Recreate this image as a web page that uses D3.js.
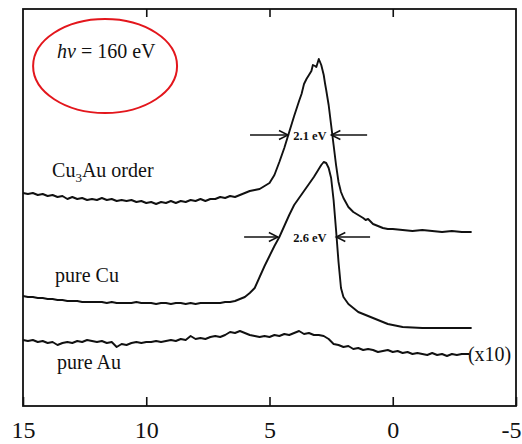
<!DOCTYPE html>
<html>
<head>
<meta charset="utf-8">
<script src="https://cdn.jsdelivr.net/npm/d3@7"></script>
<style>
  html, body { margin: 0; padding: 0; background: #fff; }
  svg { display: block; }
</style>
</head>
<body>
<svg id="chart" width="522" height="444"></svg>
<script>
// Binding energy axis (eV), drawn reversed
const xTicks = [15, 10, 5, 0, -5];
const topTicks = [10, 5, 0];

// Photoemission spectra: [binding energy (eV), intensity (arb. units)]
const cu3auOrder = [
  [15.0,213],[14.8,212],[14.6,213],[14.4,211],[14.2,212],[14.0,210],[13.8,211],[13.6,209],
  [13.4,210],[13.2,207],[13.0,209],[12.8,207],[12.6,208],[12.4,206],[12.2,207],[12.0,206],
  [11.8,208],[11.6,206],[11.4,207],[11.2,205],[11.0,206],[10.8,205],[10.6,206],[10.4,204],
  [10.2,205],[10.0,203],[9.8,204],[9.6,202],[9.4,204],[9.2,203],[9.0,205],[8.8,203],
  [8.6,205],[8.4,204],[8.2,206],[8.0,205],[7.8,207],[7.6,205],[7.4,207],[7.2,207],
  [7.0,209],[6.8,208],[6.6,210],[6.4,209],[6.2,211],[6.0,213],[5.8,215],[5.6,216],
  [5.4,217],[5.2,220],[5.0,223],[4.8,231],[4.6,244],[4.4,258],[4.2,274],[4.0,290],
  [3.8,305],[3.7,312],[3.6,322],[3.5,327],[3.4,331],[3.3,335],[3.24,341],[3.15,340],
  [3.1,339],[3.0,347],[2.9,341],[2.8,331],[2.75,323],[2.7,316],[2.6,301],[2.5,281],
  [2.4,261],[2.3,241],[2.2,224],[2.1,214],[2.0,208],[1.8,199],[1.6,194],[1.4,191],
  [1.2,188],[1.1,186],[1.0,187],[0.8,182],[0.6,180],[0.4,178],[0.2,177],[0.0,177],
  [-0.4,176],[-0.8,175],[-1.2,176],[-1.6,175],[-2.0,174],[-2.4,175],[-2.8,174],[-3.2,174]
];

const pureCu = [
  [15.0,110],[14.8,109],[14.6,109],[14.4,108],[14.2,108],[14.0,107],[13.8,107],[13.6,106],
  [13.4,106],[13.2,105],[13.0,105],[12.8,105],[12.6,104],[12.4,104],[12.2,104],[12.0,104],
  [11.8,104],[11.6,103],[11.4,104],[11.2,103],[11.0,103],[10.8,103],[10.6,103],[10.4,104],
  [10.2,103],[10.0,103],[9.8,103],[9.6,102],[9.4,103],[9.2,103],[9.0,102],[8.8,103],
  [8.6,103],[8.4,102],[8.2,103],[8.0,102],[7.8,103],[7.6,103],[7.4,103],[7.2,103],
  [7.0,103],[6.8,104],[6.6,104],[6.4,105],[6.2,107],[6.0,109],[5.8,113],[5.6,118],
  [5.4,129],[5.2,140],[5.0,150],[4.8,160],[4.6,169],[4.4,180],[4.2,191],[4.0,201],
  [3.8,208],[3.6,215],[3.4,222],[3.2,229],[3.0,237],[2.9,241],[2.8,244],[2.7,243],
  [2.6,238],[2.5,228],[2.4,206],[2.3,176],[2.2,144],[2.1,118],[2.0,109],[1.8,102],
  [1.6,98],[1.4,94],[1.2,92],[1.0,90],[0.8,88],[0.6,86],[0.4,84],[0.2,82],
  [0.0,81],[-0.4,79],[-0.8,78.5],[-1.2,78],[-1.6,78],[-2.0,78],[-2.4,78],[-2.8,78],[-3.2,78]
];

const pureAu = [
  [15.0,66],[14.8,65],[14.6,66],[14.4,64],[14.2,65],[14.0,63],[13.8,64],[13.6,61],
  [13.4,63],[13.2,64],[13.0,63],[12.8,65],[12.6,64],[12.4,66],[12.2,65],[12.0,64],
  [11.8,65],[11.6,63],[11.4,64],[11.2,59],[11.0,62],[10.8,61],[10.6,63],[10.4,64],
  [10.2,63],[10.0,64],[9.8,64],[9.6,65],[9.4,64],[9.2,65],[9.0,66],[8.8,65],
  [8.6,67],[8.4,66],[8.2,70],[8.0,67],[7.8,68],[7.6,67],[7.4,69],[7.2,70],
  [7.0,69],[6.8,71],[6.6,74],[6.4,73],[6.2,75],[6.0,73],[5.8,71],[5.6,70],
  [5.4,69],[5.2,70],[5.0,69],[4.8,71],[4.6,70],[4.4,72],[4.2,71],[4.0,73],
  [3.8,75],[3.6,72],[3.4,73],[3.2,71],[3.0,71],[2.8,70],[2.6,67],[2.4,62],
  [2.2,61],[2.0,59],[1.8,60],[1.6,57],[1.4,58],[1.2,56],[1.0,57],[0.8,56],
  [0.6,54],[0.4,55],[0.2,56],[0.0,54],[-0.2,55],[-0.4,53],[-0.6,54],[-0.8,52],
  [-1.0,53],[-1.2,52],[-1.4,51],[-1.6,53],[-1.8,51],[-2.0,52],[-2.2,50],[-2.4,52],
  [-2.6,51],[-2.8,52],[-3.0,52],[-3.1,52]
];

// Series labels: [text, energy, intensity]
const seriesLabels = [
  ["Cu3Au order", 13.82, 229],
  ["pure Cu", 13.70, 124],
  ["pure Au", 13.62, 37]
];

// FWHM markers: label, level, left head/tail, right head/tail (eV)
const fwhmMarks = [
  { text: "2.1 eV", level: 271, lHead: 4.25, lTail: 5.79, rHead: 2.49, rTail: 1.04, mid: 3.36 },
  { text: "2.6 eV", level: 169, lHead: 4.66, lTail: 6.03, rHead: 2.29, rTail: 0.92, mid: 3.36 }
];

const svg = d3.select("#chart");
const x = d3.scaleLinear().domain([15, -5]).range([23, 516]);
const y = d3.scaleLinear().domain([0, 397]).range([406, 9]);

const serif = "'Liberation Serif', 'Times New Roman', serif";
const ink = "#111";

// Frame
svg.append("rect")
  .attr("x", x(15)).attr("y", y(397))
  .attr("width", x(-5) - x(15)).attr("height", y(0) - y(397))
  .attr("fill", "none").attr("stroke", ink).attr("stroke-width", 1.8);

// Bottom axis with inward ticks
const bottomAxis = svg.append("g")
  .attr("transform", `translate(0,${y(0)})`)
  .call(d3.axisBottom(x).tickValues(xTicks).tickSizeInner(-9).tickSizeOuter(0)
        .tickPadding(15).tickFormat(d => String(d)));
bottomAxis.select(".domain").remove();
bottomAxis.selectAll("line").attr("stroke", ink).attr("stroke-width", 1.6);
bottomAxis.selectAll("text").attr("font-family", serif).attr("font-size", 24).attr("fill", ink);
// keep the last label inside the page edge
bottomAxis.selectAll(".tick text").filter(d => d === -5)
  .attr("text-anchor", "end").attr("x", 5);

// Top axis, ticks only
const topAxis = svg.append("g")
  .attr("transform", `translate(0,${y(397)})`)
  .call(d3.axisTop(x).tickValues(topTicks).tickSizeInner(-8).tickSizeOuter(0).tickFormat(""));
topAxis.select(".domain").remove();
topAxis.selectAll("line").attr("stroke", ink).attr("stroke-width", 1.6);

// Spectra
const line = d3.line().x(d => x(d[0])).y(d => y(d[1]));
[cu3auOrder, pureCu, pureAu].forEach(s => {
  svg.append("path").datum(s).attr("d", line)
    .attr("fill", "none").attr("stroke", ink).attr("stroke-width", 1.9)
    .attr("stroke-linejoin", "round");
});

// Series labels (subscript digit in the alloy name)
seriesLabels.forEach(([t, e, v]) => {
  const txt = svg.append("text").attr("x", x(e)).attr("y", y(v))
    .attr("font-family", serif).attr("font-size", 20).attr("fill", ink);
  if (t.startsWith("Cu3")) {
    txt.append("tspan").text("Cu");
    txt.append("tspan").attr("font-size", 13).attr("dy", 5).text("3");
    txt.append("tspan").attr("dy", -5).text("Au order");
  } else {
    txt.text(t);
  }
});

// Scale factor note on the gold spectrum
svg.append("text").attr("x", x(-3.05)).attr("y", y(45))
  .attr("font-family", serif).attr("font-size", 20).attr("fill", ink).text("(x10)");

// FWHM arrows
function arrow(x0, x1, yy) {
  const dir = Math.sign(x1 - x0);
  svg.append("line").attr("x1", x0).attr("x2", x1).attr("y1", yy).attr("y2", yy)
    .attr("stroke", ink).attr("stroke-width", 1.6);
  svg.append("path")
    .attr("d", `M${x1 - dir * 9},${yy - 4.5} L${x1},${yy} L${x1 - dir * 9},${yy + 4.5}`)
    .attr("fill", "none").attr("stroke", ink).attr("stroke-width", 1.5);
}
fwhmMarks.forEach(m => {
  const yy = y(m.level);
  arrow(x(m.lTail), x(m.lHead), yy);
  arrow(x(m.rTail), x(m.rHead), yy);
  svg.append("text").attr("x", x(m.mid)).attr("y", yy + 4.5)
    .attr("text-anchor", "middle").attr("font-family", serif)
    .attr("font-size", 12.5).attr("font-weight", "bold").attr("fill", ink).text(m.text);
});

// Photon energy note, circled in red
const note = svg.append("text").attr("x", x(13.62)).attr("y", y(348))
  .attr("font-family", serif).attr("font-size", 20).attr("fill", ink);
note.append("tspan").attr("font-style", "italic").text("hν");
note.append("tspan").text(" = 160 eV");

svg.append("ellipse")
  .attr("cx", x(11.67)).attr("cy", y(340))
  .attr("rx", x(15) - x(17.92)).attr("ry", y(0) - y(47))
  .attr("fill", "none").attr("stroke", "#e3161c").attr("stroke-width", 2);
</script>
</body>
</html>
